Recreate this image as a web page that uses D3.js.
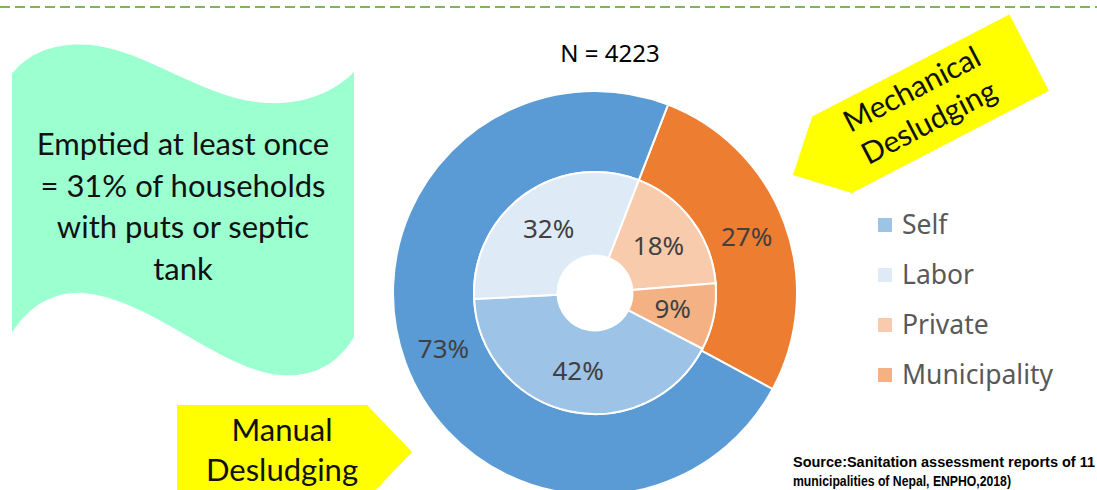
<!DOCTYPE html>
<html>
<head>
<meta charset="utf-8">
<script src="https://cdn.jsdelivr.net/npm/d3@7"></script>
<style>
  body { margin: 0; background: #fff; }
  svg { display: block; }
</style>
</head>
<body>
<svg width="1097" height="490"></svg>
<script>
// data
const outerCats = ['Mechanical', 'Manual'];
const outerVals = [27, 73];
const innerCats = ['Private', 'Municipality', 'Self', 'Labor'];
const innerVals = [18, 9, 42, 32];
const legendCats = ['Self', 'Labor', 'Private', 'Municipality'];
const bannerLines = ['Emptied at least once', '= 31% of households', 'with puts or septic', 'tank'];
const titleText = 'N = 4223';
const sourceLines = ['Source:Sanitation assessment reports of 11', 'municipalities of Nepal, ENPHO,2018)'];
const sourceWidths = [302, 218];

const svg = d3.select('svg');
const width = +svg.attr('width');
const height = +svg.attr('height');

const outerColor = d3.scaleOrdinal().domain(outerCats).range(['#ED7D31', '#5B9BD5']);
const innerColor = d3.scaleOrdinal().domain(['Self', 'Labor', 'Private', 'Municipality'])
    .range(['#9DC3E6', '#DEEBF7', '#F8CBAD', '#F4B183']);

// dashed rule on top
svg.append('line')
    .attr('x1', 0).attr('x2', width)
    .attr('y1', 7).attr('y2', 7)
    .attr('stroke', '#7CB55A')
    .attr('stroke-width', 2)
    .attr('stroke-dasharray', '10,5');

// green wavy banner
svg.append('path')
    .attr('d', 'M12,74 C30,50 60,42 92,45 C150,52 205,100 267,103 C310,105 338,88 354,72 ' +
               'L354,337 C340,360 318,378 280,375 C220,370 150,298 83,293 C50,291 26,310 12,333 Z')
    .attr('fill', '#9CFFD0');

svg.append('g').selectAll('text').data(bannerLines)
    .enter().append('text')
    .attr('x', 183)
    .attr('y', (d, i) => 155 + i * 41.5)
    .attr('text-anchor', 'middle')
    .attr('font-family', 'Lato, sans-serif')
    .attr('font-size', '31px')
    .attr('fill', '#111')
    .text(d => d);

// manual desludging arrow
const manual = svg.append('g');
manual.append('path')
    .attr('d', 'M177,405 L367,405 L412,452 L367,499 L177,499 Z')
    .attr('fill', '#FFFF00');
manual.selectAll('text').data(['Manual', 'Desludging'])
    .enter().append('text')
    .attr('x', 282)
    .attr('y', (d, i) => 441 + i * 40)
    .attr('text-anchor', 'middle')
    .attr('font-family', 'Lato, sans-serif')
    .attr('font-size', '31px')
    .attr('fill', '#111')
    .text(d => d);

// mechanical desludging arrow (rotated)
const mech = svg.append('g')
    .attr('transform', 'translate(793,175) rotate(-27.4)');
mech.append('path')
    .attr('d', 'M0,0 L44,-43 L266,-43 L266,43 L44,43 Z')
    .attr('fill', '#FFFF00');
mech.selectAll('text').data(['Mechanical', 'Desludging'])
    .enter().append('text')
    .attr('x', 145)
    .attr('y', (d, i) => -11 + i * 37)
    .attr('text-anchor', 'middle')
    .attr('font-family', 'Lato, sans-serif')
    .attr('font-size', '30px')
    .attr('fill', '#111')
    .text(d => d);

// title
svg.append('text')
    .attr('x', 610).attr('y', 62)
    .attr('text-anchor', 'middle')
    .attr('font-family', 'Noto Sans, sans-serif')
    .attr('font-size', '24px')
    .attr('fill', '#000')
    .text(titleText);

// donut
const cx = 595, cy = 293;
const rOuter = 202, rMid = 121, rHole = 37.5;
const start = 21.2 * Math.PI / 180;

const pie = d3.pie().sort(null).startAngle(start).endAngle(start + 2 * Math.PI);
const outerArc = d3.arc().innerRadius(rMid).outerRadius(rOuter);
const innerArc = d3.arc().innerRadius(rHole).outerRadius(rMid);

const g = svg.append('g').attr('transform', `translate(${cx},${cy})`);

const outerData = pie(outerVals).map((d, i) => ({...d, cat: outerCats[i]}));
const innerData = pie(innerVals).map((d, i) => ({...d, cat: innerCats[i]}));

g.selectAll('path.outer').data(outerData)
    .enter().append('path')
    .attr('class', 'outer')
    .attr('d', outerArc)
    .attr('fill', d => outerColor(d.cat))
    .attr('stroke', '#fff')
    .attr('stroke-width', 2);

g.selectAll('path.inner').data(innerData)
    .enter().append('path')
    .attr('class', 'inner')
    .attr('d', innerArc)
    .attr('fill', d => innerColor(d.cat))
    .attr('stroke', '#fff')
    .attr('stroke-width', 2);

const labelStyle = sel => sel
    .attr('text-anchor', 'middle')
    .attr('dy', '0.35em')
    .attr('font-family', 'Noto Sans, sans-serif')
    .attr('font-size', '26px')
    .attr('fill', '#404040');

g.selectAll('text.outer').data(outerData)
    .enter().append('text')
    .attr('class', 'outer')
    .attr('transform', d => `translate(${outerArc.centroid(d)})`)
    .call(labelStyle)
    .text(d => d.value + '%');

g.selectAll('text.inner').data(innerData)
    .enter().append('text')
    .attr('class', 'inner')
    .attr('transform', d => `translate(${innerArc.centroid(d)})`)
    .call(labelStyle)
    .text(d => d.value + '%');

// legend
const ly = d3.scalePoint().domain(legendCats).range([225, 375]);
const legend = svg.append('g').selectAll('g').data(legendCats)
    .enter().append('g')
    .attr('transform', d => `translate(878,${ly(d)})`);
legend.append('rect')
    .attr('x', 0).attr('y', -7)
    .attr('width', 14).attr('height', 14)
    .attr('fill', d => innerColor(d));
legend.append('text')
    .attr('x', 24).attr('y', 9)
    .attr('font-family', 'Noto Sans, sans-serif')
    .attr('font-size', '26.5px')
    .attr('fill', '#595959')
    .text(d => d);

// source note
svg.append('g').selectAll('text').data(sourceLines)
    .enter().append('text')
    .attr('x', 793)
    .attr('y', (d, i) => 467 + i * 19)
    .attr('font-family', 'Liberation Sans Narrow, Liberation Sans, Arial, sans-serif')
    .attr('font-weight', 'bold')
    .attr('font-size', '14px')
    .attr('textLength', (d, i) => sourceWidths[i])
    .attr('lengthAdjust', 'spacingAndGlyphs')
    .attr('fill', '#000')
    .text(d => d);
</script>
</body>
</html>
